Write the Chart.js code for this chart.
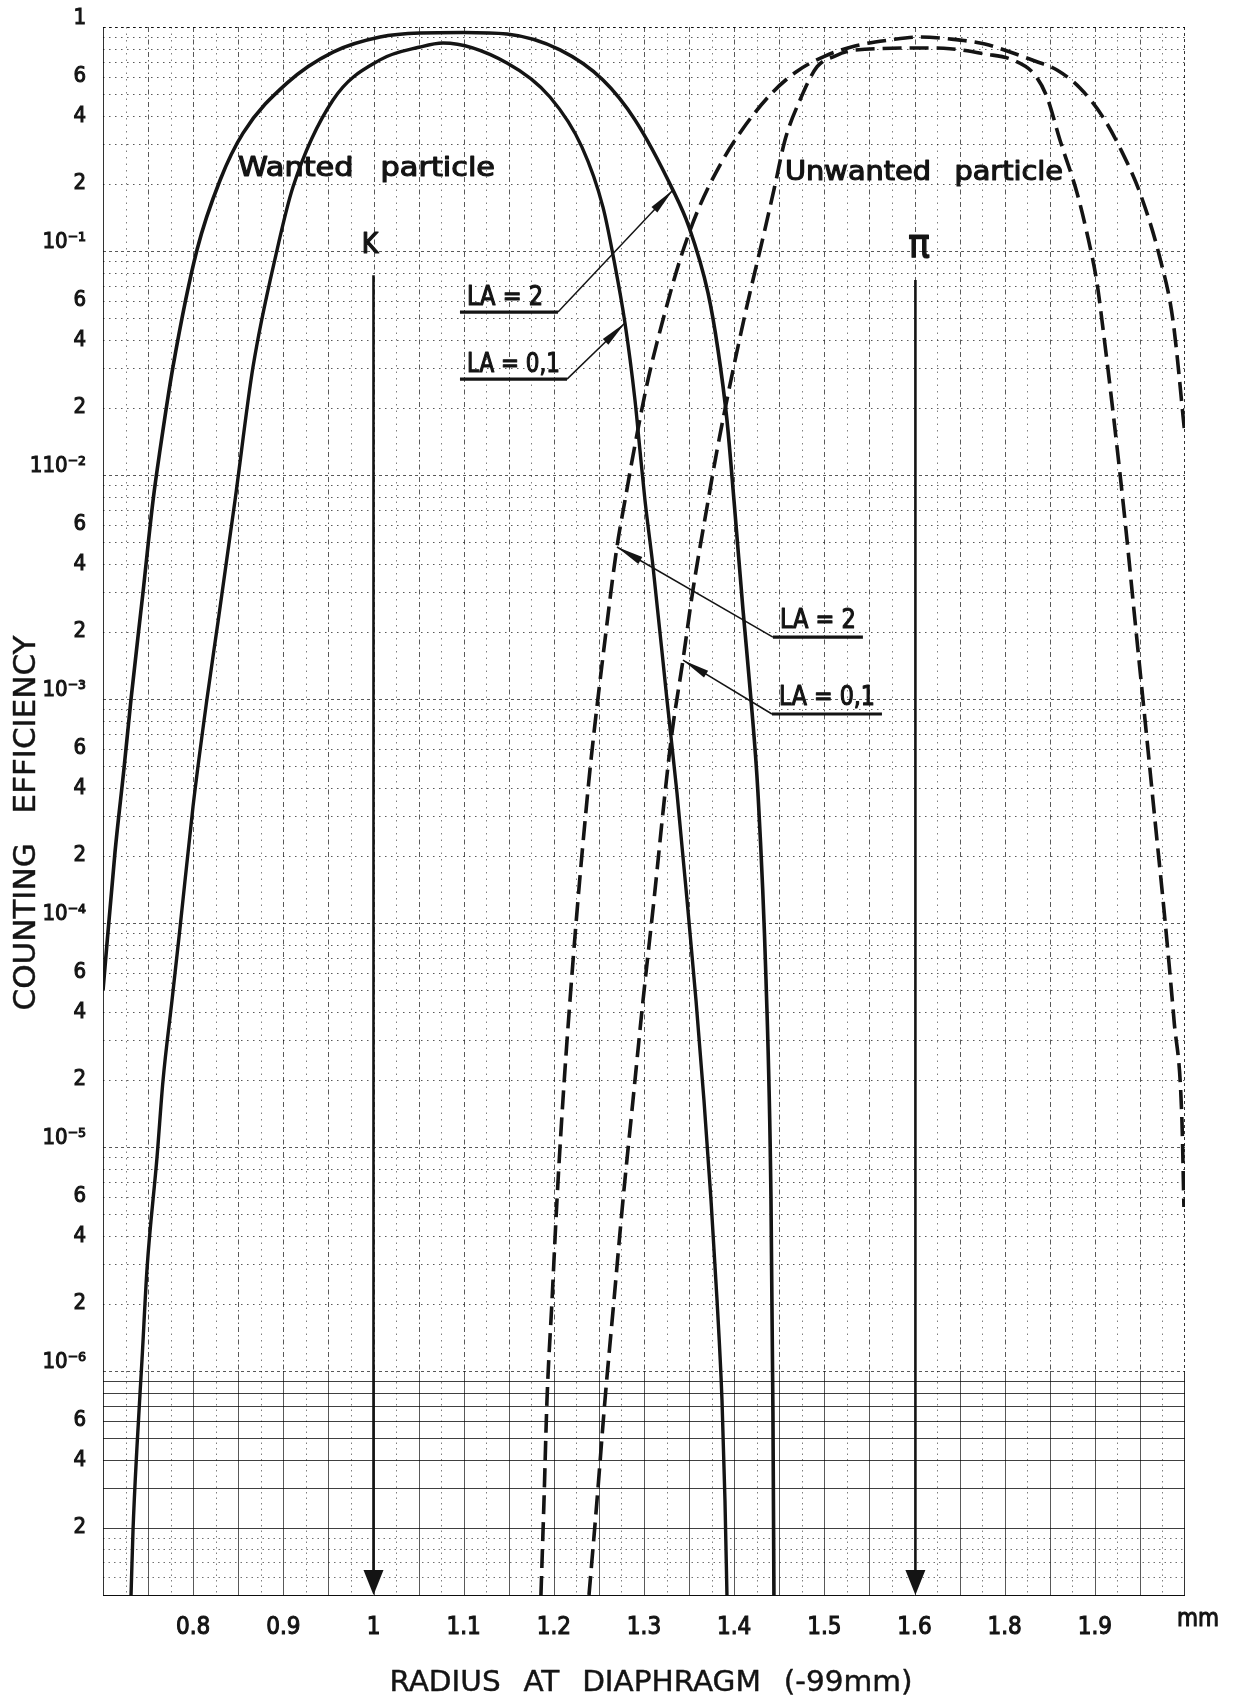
<!DOCTYPE html>
<html>
<head>
<meta charset="utf-8">
<script src="https://cdn.jsdelivr.net/npm/chart.js@4.4.1/dist/chart.umd.min.js"></script>
<style>
  html, body { margin: 0; padding: 0; background: #fff; }
  #wrap { width: 1239px; height: 1704px; position: relative; }
</style>
</head>
<body>
<div id="wrap"><canvas id="c" width="1239" height="1704"></canvas></div>
<script>
// ---- Counting efficiency vs. radius at the diaphragm ----

// Wanted particle (K), LA = 2  (solid, outer curve)
const wantedLA2_r = [0.7, 0.7133, 0.7233, 0.7311, 0.7444, 0.7555, 0.7632, 0.7776, 0.8042, 0.8298, 0.8553, 0.904, 0.9551, 1.0072, 1.0516, 1.10, 1.148, 1.2068, 1.2545, 1.29, 1.3321, 1.3499, 1.371, 1.3821, 1.392, 1.3998, 1.4098, 1.4186, 1.4264, 1.4353, 1.4408, 1.443, 1.4441];
const wantedLA2_eff = [5.0e-5, 2.07e-4, 4.9e-4, 1.0e-3, 3.0e-3, 7.7e-3, 0.0129, 0.0304, 0.101, 0.207, 0.336, 0.562, 0.773, 0.902, 0.94, 0.945, 0.93, 0.79, 0.58, 0.385, 0.187, 0.128, 0.065, 0.0361, 0.0176, 7.7e-3, 2.5e-3, 1.0e-3, 3.8e-4, 5.6e-5, 6.0e-6, 6.5e-7, 1e-7];

// Wanted particle (K), LA = 0,1  (solid, inner curve)
const wantedLA01_r = [0.7311, 0.7333, 0.7377, 0.7433, 0.7488, 0.7599, 0.7665, 0.7765, 0.7854, 0.7998, 0.8153, 0.8275, 0.8464, 0.8664, 0.893, 0.9107, 0.9551, 1.0072, 1.0516, 1.0771, 1.148, 1.1957, 1.2312, 1.2545, 1.2667, 1.2789, 1.29, 1.2955, 1.3011, 1.31, 1.3255, 1.3366, 1.3477, 1.3577, 1.3665, 1.3743, 1.381, 1.3865, 1.3898, 1.392];
const wantedLA01_eff = [1e-7, 1.95e-7, 4.6e-7, 1.13e-6, 2.85e-6, 9.0e-6, 1.97e-5, 4.5e-5, 9.5e-5, 3.3e-4, 1.0e-3, 2.2e-3, 7.7e-3, 0.0304, 0.101, 0.193, 0.472, 0.713, 0.814, 0.848, 0.691, 0.487, 0.291, 0.157, 0.091, 0.0477, 0.0216, 0.0129, 7.7e-3, 3.9e-3, 9.9e-4, 3.8e-4, 1.27e-4, 4.5e-5, 1.62e-5, 5.8e-6, 2.07e-6, 7.4e-7, 2.65e-7, 1e-7];

// Unwanted particle (pi), LA = 2  (dashed, outer curve)
const unwantedLA2_r = [1.1857, 1.1891, 1.1924, 1.198, 1.2035, 1.2101, 1.2179, 1.2268, 1.2368, 1.2412, 1.2567, 1.27, 1.2789, 1.2889, 1.3044, 1.321, 1.3399, 1.3599, 1.3843, 1.4087, 1.4397, 1.4686, 1.5007, 1.534, 1.5728, 1.605, 1.6393, 1.6781, 1.7092, 1.7336, 1.758, 1.7835, 1.809, 1.8301, 1.85, 1.8722, 1.8866, 1.9];
const unwantedLA2_eff = [1e-7, 2.65e-7, 7.4e-7, 2.07e-6, 5.8e-6, 1.62e-5, 4.5e-5, 1.27e-4, 3.54e-4, 5.34e-4, 1.83e-3, 4.77e-3, 7.7e-3, 0.0129, 0.0266, 0.0492, 0.0912, 0.1524, 0.242, 0.347, 0.497, 0.63, 0.742, 0.823, 0.875, 0.902, 0.884, 0.839, 0.765, 0.705, 0.643, 0.534, 0.396, 0.277, 0.182, 0.093, 0.0492, 0.015];

// Unwanted particle (pi), LA = 0,1  (dashed, inner curve)
const unwantedLA01_r = [1.239, 1.2479, 1.2567, 1.2667, 1.2767, 1.2878, 1.2989, 1.3111, 1.3233, 1.331, 1.3432, 1.3543, 1.3699, 1.381, 1.3965, 1.4131, 1.4331, 1.4453, 1.4564, 1.473, 1.4918, 1.5118, 1.534, 1.6105, 1.6393, 1.6781, 1.7092, 1.7336, 1.7469, 1.7613, 1.7802, 1.7913, 1.8024, 1.8079, 1.8212, 1.8334, 1.8445, 1.8556, 1.8667, 1.8778, 1.8878, 1.8966, 1.8988];
const unwantedLA01_eff = [1e-7, 2.65e-7, 7.4e-7, 2.07e-6, 5.8e-6, 1.62e-5, 4.5e-5, 1.27e-4, 3.8e-4, 7.05e-4, 1.49e-3, 3.07e-3, 7.2e-3, 0.0129, 0.0266, 0.0545, 0.12, 0.197, 0.313, 0.472, 0.663, 0.742, 0.789, 0.806, 0.80, 0.758, 0.712, 0.61, 0.487, 0.313, 0.182, 0.12, 0.072, 0.049, 0.0176, 6.3e-3, 2.25e-3, 8.1e-4, 2.88e-4, 1.03e-4, 3.69e-5, 1.32e-5, 5.4e-6];

// Axis ticks
const xTickValues = [0.8, 0.9, 1.0, 1.1, 1.2, 1.3, 1.4, 1.5, 1.6, 1.7, 1.8];
const xTickLabels = ['0.8', '0.9', '1', '1.1', '1.2', '1.3', '1.4', '1.5', '1.6', '1.8', '1.9'];
const yTickValues = [1, 0.6, 0.4, 0.2, 0.1, 0.06, 0.04, 0.02, 0.01, 6e-3, 4e-3, 2e-3, 1e-3, 6e-4, 4e-4, 2e-4, 1e-4, 6e-5, 4e-5, 2e-5, 1e-5, 6e-6, 4e-6, 2e-6, 1e-6, 6e-7, 4e-7, 2e-7];
const yTickLabels = ['1', '6', '4', '2', '10⁻¹', '6', '4', '2', '110⁻²', '6', '4', '2', '10⁻³', '6', '4', '2', '10⁻⁴', '6', '4', '2', '10⁻⁵', '6', '4', '2', '10⁻⁶', '6', '4', '2'];

// Particle markers (vertical arrows down to the axis)
const particleArrows = [
  { text: 'K', r: 1.0, labelR: 0.9961, labelEff: 0.098, fromEff: 0.078, size: 28 },
  { text: 'π', r: 1.601, labelR: 1.605, labelEff: 0.094, fromEff: 0.0743, size: 40 }
];

// LA callouts: underlined label with a leader arrow onto its curve
const laCallouts = [
  { text: 'LA = 2',   r0: 1.0959, r1: 1.2046, lineEff: 0.0534,  textEff: 0.0574,  from: 'r1', tipR: 1.3321, tipEff: 0.187,  w: 76 },
  { text: 'LA = 0,1', r0: 1.0959, r1: 1.2146, lineEff: 0.0268,  textEff: 0.0288,  from: 'r1', tipR: 1.2789, tipEff: 0.0477, w: 93 },
  { text: 'LA = 2',   r0: 1.443,  r1: 1.5428, lineEff: 1.89e-3, textEff: 2.07e-3, from: 'r0', tipR: 1.27,   tipEff: 4.77e-3, w: 76 },
  { text: 'LA = 0,1', r0: 1.4419, r1: 1.5639, lineEff: 8.57e-4, textEff: 9.4e-4,  from: 'r0', tipR: 1.3432, tipEff: 1.49e-3, w: 96 }
];

const curveLabels = [
  { text: 'Wanted particle',   r: 0.8497, eff: 0.216,  w: 257, gap: 14 },
  { text: 'Unwanted particle', r: 1.4564, eff: 0.2075, w: 278, gap: 12 }
];

const FONT = '"DejaVu Sans Condensed", "Liberation Sans Narrow", "DejaVu Sans", sans-serif';
const INK = '#141414';

function pts(r, e) { return r.map((v, i) => ({ x: v, y: e[i] })); }

// text with a light outline stroke for a medium weight
function fitText(ctx, str, x, y, size, width, align, gap, stroke) {
  ctx.save();
  ctx.font = size + 'px ' + FONT;
  if (gap !== undefined && gap !== null && 'wordSpacing' in ctx) ctx.wordSpacing = gap + 'px';
  const w = ctx.measureText(str).width;
  const sx = width ? width / w : 1;
  ctx.translate(x, y);
  ctx.scale(sx, 1);
  ctx.textAlign = align || 'left';
  ctx.fillStyle = INK;
  ctx.fillText(str, 0, 0);
  const sw = stroke === undefined ? 1.0 : stroke;
  if (sw > 0) {
    ctx.lineWidth = sw;
    ctx.strokeStyle = INK;
    ctx.lineJoin = 'round';
    ctx.strokeText(str, 0, 0);
  }
  ctx.restore();
}

function seg(ctx, x0, y0, x1, y1) {
  ctx.beginPath(); ctx.moveTo(x0, y0); ctx.lineTo(x1, y1); ctx.stroke();
}

// Log-paper grid
const paperGrid = {
  id: 'paperGrid',
  beforeDatasetsDraw(chart) {
    const { ctx, chartArea: a, scales: { x, y } } = chart;
    ctx.save();
    ctx.lineWidth = 1;
    const yDec6 = y.getPixelForValue(1e-6);
    // horizontal lines
    for (let k = -7; k <= 0; k++) {
      for (let m = 1; m <= 9; m++) {
        const v = m * Math.pow(10, k);
        if (v > 1) break;
        const py = Math.round(y.getPixelForValue(v)) + 0.5;
        if (k === -7) {
          ctx.strokeStyle = 'rgba(0,0,0,0.75)';
          ctx.setLineDash([]);
        } else {
          ctx.strokeStyle = 'rgba(0,0,0,0.65)';
          ctx.setLineDash(m === 1 ? [3, 3] : [1.5, 4.5]);
        }
        seg(ctx, a.left, py, a.right, py);
      }
    }
    // finer lines in the lowest decade
    ctx.strokeStyle = 'rgba(0,0,0,0.55)';
    ctx.setLineDash([1.5, 4]);
    [1.2, 1.4, 1.6, 1.8].forEach(m => {
      const py = Math.round(y.getPixelForValue(m * 1e-7)) + 0.5;
      seg(ctx, a.left, py, a.right, py);
    });
    // vertical lines every 0.025
    for (let i = 1; i < 48; i++) {
      const v = 0.7 + i * 0.025;
      const px = Math.round(x.getPixelForValue(v)) + 0.5;
      const major = i % 2 === 0;
      ctx.strokeStyle = major ? 'rgba(0,0,0,0.65)' : 'rgba(0,0,0,0.5)';
      ctx.setLineDash(major ? [5, 3, 1.5, 3] : [1.5, 5]);
      seg(ctx, px, a.top, px, yDec6);
      ctx.setLineDash(major ? [] : [1.5, 4]);
      seg(ctx, px, yDec6, px, a.bottom);
    }
    // frame
    ctx.setLineDash([]);
    ctx.strokeStyle = 'rgba(0,0,0,0.8)';
    seg(ctx, a.left + 0.5, a.top, a.left + 0.5, a.bottom);
    seg(ctx, a.left, a.bottom + 0.5, a.right, a.bottom + 0.5);
    ctx.setLineDash([3, 3]);
    seg(ctx, a.right - 0.5, a.top, a.right - 0.5, yDec6);
    ctx.setLineDash([]);
    seg(ctx, a.right - 0.5, yDec6, a.right - 0.5, a.bottom);
    ctx.setLineDash([2, 4]);
    seg(ctx, a.left, a.top + 0.5, a.right, a.top + 0.5);
    ctx.restore();
  }
};

// Arrows, callouts and curve labels
const notes = {
  id: 'notes',
  afterDatasetsDraw(chart) {
    const { ctx, chartArea: a, scales: { x, y } } = chart;
    const X = v => x.getPixelForValue(v);
    const Y = v => y.getPixelForValue(v);
    ctx.save();
    ctx.strokeStyle = INK;
    ctx.fillStyle = INK;

    // particle arrows
    particleArrows.forEach(p => {
      const px = X(p.r);
      const tipY = a.bottom;
      ctx.lineWidth = 2.6;
      ctx.strokeStyle = INK;
      seg(ctx, px, Y(p.fromEff), px, tipY - 18);
      ctx.beginPath();
      ctx.moveTo(px, tipY);
      ctx.lineTo(px - 10, tipY - 25);
      ctx.lineTo(px + 10, tipY - 25);
      ctx.closePath();
      ctx.fill();
      fitText(ctx, p.text, X(p.labelR), Y(p.labelEff), p.size, null, 'center', null, 1.2);
    });

    // LA callouts
    laCallouts.forEach(c => {
      const x0 = X(c.r0), x1 = X(c.r1), ly = Y(c.lineEff);
      ctx.lineWidth = 3.2;
      ctx.strokeStyle = INK;
      seg(ctx, x0, ly, x1, ly);
      fitText(ctx, c.text, x0 + 7, Y(c.textEff), 26, c.w, 'left', null, 1.1);
      const sx = c.from === 'r1' ? x1 : x0;
      const tx = X(c.tipR), ty = Y(c.tipEff);
      ctx.lineWidth = 1.5;
      ctx.strokeStyle = INK;
      seg(ctx, sx, ly, tx, ty);
      const ang = Math.atan2(ty - ly, tx - sx);
      const L = 27, hw = 4;
      const bx = tx - L * Math.cos(ang), by = ty - L * Math.sin(ang);
      ctx.beginPath();
      ctx.moveTo(tx, ty);
      ctx.lineTo(bx + hw * Math.sin(ang), by - hw * Math.cos(ang));
      ctx.lineTo(bx - hw * Math.sin(ang), by + hw * Math.cos(ang));
      ctx.closePath();
      ctx.fill();
    });

    // curve family labels
    curveLabels.forEach(l => {
      fitText(ctx, l.text, X(l.r), Y(l.eff), 27, l.w, 'left', l.gap, 1.1);
    });
    ctx.restore();
  },
  afterDraw(chart) {
    const { ctx, scales: { x } } = chart;
    ctx.save();
    // axis titles
    ctx.save();
    ctx.translate(27, 823);
    ctx.rotate(-Math.PI / 2);
    ctx.textBaseline = 'middle';
    fitText(ctx, 'COUNTING EFFICIENCY', 0, 0, 31, 375, 'center', 18, 0.4);
    ctx.restore();
    ctx.textBaseline = 'middle';
    fitText(ctx, 'RADIUS AT DIAPHRAGM (-99mm)', 651, 1683, 29, 523, 'center', 12, 0.4);
    fitText(ctx, 'mm', x.right + 13, 1620, 24, null, 'center', null, 1.0);
    ctx.restore();
  }
};

Chart.defaults.font.family = FONT;
Chart.defaults.color = INK;

const lineStyle = (label, r, e, dash, width) => ({
  label,
  data: pts(r, e),
  showLine: true,
  pointRadius: 0,
  borderColor: INK,
  borderWidth: width,
  borderDash: dash,
  borderCapStyle: 'butt',
  cubicInterpolationMode: 'monotone',
  fill: false
});

new Chart(document.getElementById('c'), {
  type: 'scatter',
  data: {
    datasets: [
      lineStyle('Wanted particle, LA = 2', wantedLA2_r, wantedLA2_eff, [], 3.6),
      lineStyle('Wanted particle, LA = 0,1', wantedLA01_r, wantedLA01_eff, [], 3.4),
      lineStyle('Unwanted particle, LA = 2', unwantedLA2_r, unwantedLA2_eff, [19, 8], 3.6),
      lineStyle('Unwanted particle, LA = 0,1', unwantedLA01_r, unwantedLA01_eff, [19, 8], 3.6)
    ]
  },
  options: {
    responsive: false,
    animation: false,
    devicePixelRatio: 1,
    layout: { padding: { top: 27, right: 54, bottom: 0, left: 0 } },
    plugins: { legend: { display: false }, tooltip: { enabled: false } },
    scales: {
      x: {
        type: 'linear', min: 0.7, max: 1.9,
        grid: { display: false }, border: { display: false },
        afterBuildTicks: s => { s.ticks = xTickValues.map(v => ({ value: v })); },
        afterFit: s => { s.height = 109; },
        ticks: {
          autoSkip: false, maxRotation: 0, padding: 10, color: INK,
          textStrokeColor: INK, textStrokeWidth: 1.0,
          font: { family: FONT, size: 24 },
          callback: v => { const i = xTickValues.indexOf(v); return i < 0 ? '' : xTickLabels[i]; }
        }
      },
      y: {
        type: 'logarithmic', min: 1e-7, max: 1,
        grid: { display: false }, border: { display: false },
        afterBuildTicks: s => { s.ticks = yTickValues.slice().reverse().map(v => ({ value: v })); },
        afterFit: s => { s.width = 103; },
        ticks: {
          autoSkip: false, padding: 9, color: INK,
          textStrokeColor: INK, textStrokeWidth: 1.0,
          font: { family: FONT, size: 22, lineHeight: 0.8 },
          callback: v => {
            const i = yTickValues.indexOf(v);
            if (i < 0) return '';
            const t = yTickLabels[i];
            return t.length > 1 || t === '1' ? [t, ''] : t;
          }
        }
      }
    }
  },
  plugins: [paperGrid, notes]
});
</script>
</body>
</html>
